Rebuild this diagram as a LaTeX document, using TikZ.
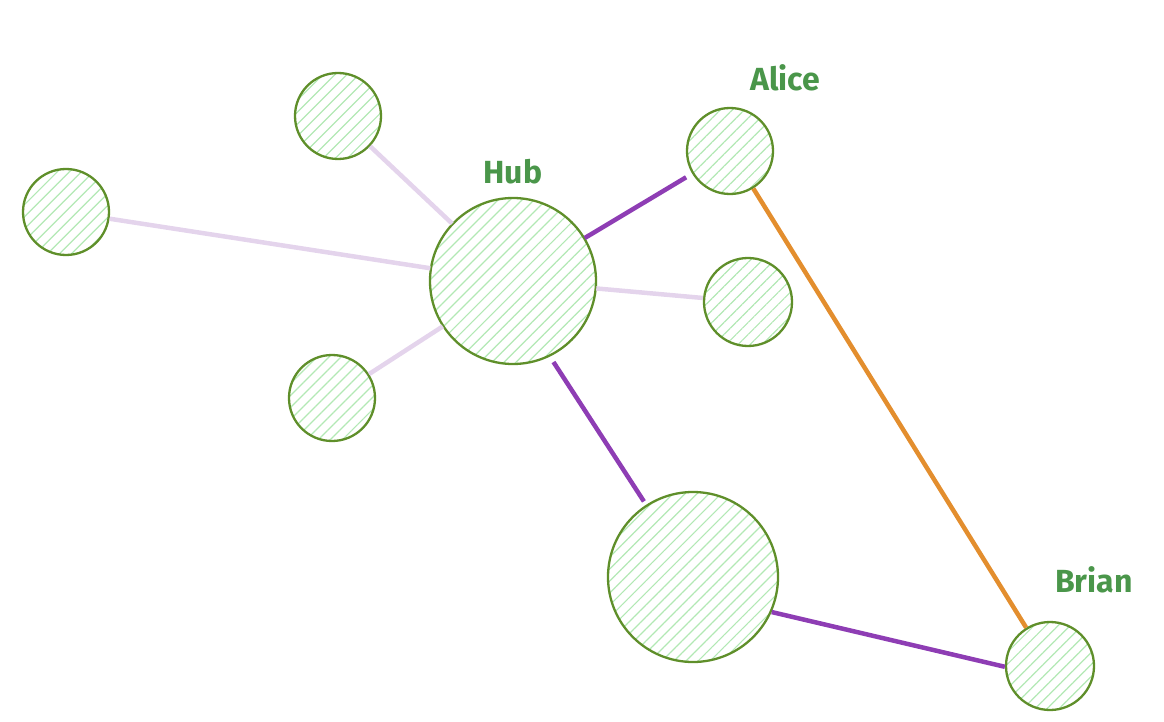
\documentclass[tikz,border=0pt]{standalone}
\usepackage{fontspec}
\setmainfont{Fira Sans}
\usetikzlibrary{patterns.meta}
\definecolor{strokegreen}{HTML}{5F8F2A}
\definecolor{hatchgreen}{HTML}{B2E8B4}
\definecolor{labelgreen}{HTML}{4A964A}
\definecolor{lightpurple}{HTML}{E4D4EC}
\definecolor{darkpurple}{HTML}{8E3DB4}
\definecolor{edgeorange}{HTML}{E38E2E}
\tikzset{
  blob/.style={circle, inner sep=0pt, minimum size=#1, draw=strokegreen, line width=2.3pt,
    pattern={Lines[angle=45,distance=8.5pt,line width=1.2pt]}, pattern color=hatchgreen},
  lbl/.style={text=labelgreen, font=\fontsize{32}{32}\selectfont\bfseries},
  weak/.style={draw=lightpurple, line width=4.5pt},
  strong/.style={draw=darkpurple, line width=4.5pt},
  orangeedge/.style={draw=edgeorange, line width=4.5pt},
}
\begin{document}
\begin{tikzpicture}[x=1pt,y=-1pt]
\useasboundingbox (0,0) rectangle (1164,722);
\node[blob=166pt] (hub) at (513,281) {};
\node[blob=86pt] (tl) at (338,116) {};
\node[blob=86pt] (left) at (66,212) {};
\node[blob=86pt] (ll) at (332,398) {};
\node[blob=88pt] (right) at (748,302) {};
\node[blob=86pt] (alice) at (730,151) {};
\node[blob=170pt] (big) at (693,577) {};
\node[blob=88pt] (brian) at (1050,666) {};
\node[lbl] (hublbl) at (513,172) {Hub};
\node[lbl] (alicelbl) at (785,78) {Alice};
\node[lbl] (brianlbl) at (1094,580) {Brian};
\draw[weak] (hub) -- (tl);
\draw[weak] (hub) -- (left);
\draw[weak] (hub) -- (ll);
\draw[weak] (hub) -- (right);
\draw[strong, shorten >=7pt] (hub) -- (alice);
\draw[strong, shorten <=7pt, shorten >=4pt] (hub.-64) -- (big.123);
\draw[strong] (big.-24) -- (brian.181);
\draw[orangeedge] (alice) -- (brian);
\end{tikzpicture}
\end{document}
